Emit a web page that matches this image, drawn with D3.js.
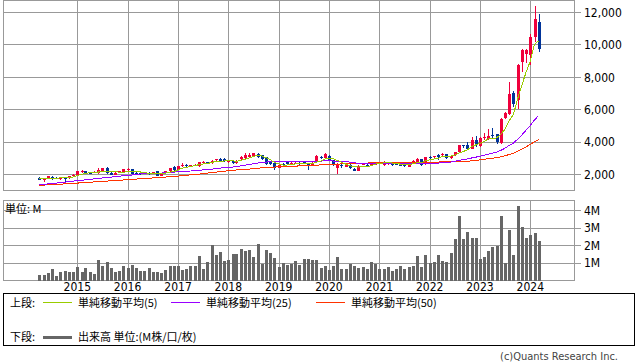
<!DOCTYPE html>
<html>
<head>
<meta charset="utf-8">
<script src="https://cdn.jsdelivr.net/npm/d3@7"></script>
<style>
  body { margin: 0; background: #fff; }
  svg { display: block; }
  text { font-family: "DejaVu Sans Condensed", "DejaVu Sans", sans-serif; font-stretch: condensed; fill: #000; }
  .jp { font-family: "Noto Sans CJK JP", sans-serif; font-stretch: normal; }
</style>
</head>
<body>
<svg id="chart" width="638" height="362"></svg>
<script>
// monthly bars, Apr 2014 .. Mar 2024
const months = d3.timeMonth.range(new Date(2014, 3, 1), new Date(2024, 3, 1));

const open = [
  1810, 1670, 1740, 1860, 1800, 1720, 1810, 1770, 1880,
  1970, 2150, 2200, 2120, 2110, 2110, 2200, 2390, 2110, 1985, 2110, 2150,
  2260, 2310, 2110, 2120, 2090, 2100, 2047, 2191, 1924, 2090, 2191, 2459,
  2294, 2500, 2580, 2520, 2560, 2500, 2750, 2760, 2680, 2870, 2980, 2960,
  2800, 2860, 2740, 2950, 3000, 3080, 3130, 3280, 3180, 3060, 2780, 2740,
  2420, 2650, 2760, 2640, 2660, 2720, 2760, 2700, 2560, 2830, 3100, 3040,
  3150, 2870, 2400, 2560, 2480, 2600, 2370, 2240, 2620, 2600, 2560, 2600,
  2720, 2560, 2640, 2660, 2660, 2600, 2580, 2460, 2680, 2760, 2940, 2620,
  3080, 3060, 3180, 3180, 3250, 3020, 3180, 3400, 3795, 3795, 3590, 4104,
  3734, 4280, 4210, 4420, 4474, 3937, 5503, 5750, 7022, 6572, 8935, 9410,
  9349, 10478, 11405
];
const high = [
  1840, 1740, 1900, 1890, 1840, 1830, 1830, 1900, 2050,
  2230, 2260, 2220, 2160, 2190, 2380, 2400, 2480, 2130, 2130, 2210, 2330,
  2380, 2320, 2140, 2150, 2140, 2130, 2170, 2200, 2060, 2240, 2390, 2500,
  2520, 2700, 2620, 2600, 2640, 2770, 2860, 2800, 2880, 2960, 3000, 2990,
  2900, 2880, 2880, 3130, 3300, 3300, 3330, 3320, 3200, 3080, 2800, 2760,
  2640, 2720, 2800, 2760, 2760, 2780, 2800, 2720, 2760, 3180, 3160, 3300,
  3200, 2900, 2700, 2660, 2660, 2620, 2400, 2560, 2700, 2640, 2720, 2780,
  2790, 2820, 2770, 2680, 2680, 2620, 2640, 2780, 2880, 3000, 2960, 3100,
  3130, 3160, 3260, 3300, 3280, 3200, 3400, 3820, 3850, 4000, 4310, 4350,
  4300, 4557, 4825, 4865, 4500, 5500, 5850, 7700, 7146, 8800, 9750, 9720,
  10690, 12372, 11878
];
const low = [
  1640, 1560, 1720, 1690, 1720, 1690, 1540, 1750, 1860,
  1940, 2120, 2020, 2070, 2090, 2050, 2170, 2050, 1940, 1970, 2080, 2130,
  2240, 2000, 2040, 2000, 2060, 1980, 2030, 1900, 1910, 2070, 2170, 2230,
  2280, 2450, 2490, 2460, 2520, 2480, 2700, 2620, 2660, 2820, 2820, 2800,
  2720, 2650, 2640, 2900, 2970, 3050, 3100, 3030, 2900, 2600, 2560, 2280,
  2380, 2560, 2600, 2600, 2620, 2600, 2620, 2300, 2540, 2800, 2980, 3020,
  2850, 2520, 2050, 2420, 2440, 2330, 2220, 2220, 2600, 2520, 2540, 2580,
  2690, 2540, 2600, 2530, 2560, 2520, 2440, 2440, 2660, 2740, 2540, 2600,
  2980, 3020, 2900, 3150, 2950, 2980, 3150, 3380, 3650, 3490, 3550, 3690,
  3700, 4147, 4150, 4207, 3900, 3900, 5400, 5700, 6160, 6060, 8320, 8900,
  8730, 10170, 9552
];
const close = [
  1670, 1720, 1880, 1800, 1760, 1810, 1770, 1880, 2000,
  2190, 2200, 2050, 2100, 2150, 2250, 2376, 2110, 1965, 2110, 2190, 2310,
  2330, 2047, 2060, 2040, 2120, 2080, 2150, 1924, 2047, 2230, 2376, 2253,
  2500, 2580, 2520, 2560, 2600, 2750, 2800, 2680, 2860, 2940, 2850, 2840,
  2860, 2740, 2800, 3110, 3180, 3230, 3300, 3080, 2950, 2620, 2650, 2420,
  2600, 2620, 2640, 2700, 2720, 2640, 2660, 2560, 2740, 3150, 3040, 3240,
  2870, 2560, 2640, 2520, 2620, 2380, 2240, 2540, 2660, 2560, 2700, 2750,
  2760, 2800, 2700, 2560, 2600, 2540, 2560, 2760, 2860, 2940, 2560, 3080,
  3060, 3120, 3100, 3280, 3000, 3150, 3383, 3795, 3740, 3549, 4147, 3898,
  4270, 4310, 4350, 4350, 4000, 5443, 5790, 6985, 6368, 8775, 9700, 9700,
  10478, 11570, 9762
];
// volume in millions
const volume = [
  0.31, 0.31, 0.44, 0.65, 0.25, 0.46, 0.52, 0.48, 0.48,
  0.77, 0.50, 0.71, 0.50, 0.37, 1.17, 0.85, 1.06, 0.71, 0.50, 0.56, 0.83,
  0.73, 0.87, 0.71, 0.54, 0.54, 0.71, 0.46, 0.50, 0.44, 0.60, 0.83, 0.83,
  0.83, 0.62, 0.65, 0.83, 0.84, 1.41, 0.66, 1.03, 2.05, 1.47, 1.64, 1.13,
  1.18, 1.53, 1.53, 1.82, 1.70, 1.76, 1.36, 2.11, 0.95, 1.76, 1.59, 1.30,
  0.78, 1.01, 0.90, 0.95, 1.13, 0.90, 1.24, 1.24, 1.18, 1.18, 0.72, 0.84,
  0.60, 0.84, 1.36, 0.66, 0.66, 0.95, 0.84, 0.72, 0.78, 0.66, 1.07, 0.95,
  0.66, 0.66, 0.78, 0.55, 0.66, 0.84, 0.66, 0.78, 0.84, 1.41, 0.78, 1.47,
  1.01, 1.07, 1.47, 1.13, 1.07, 1.59, 2.39, 3.66, 2.39, 2.80, 2.45, 2.45,
  1.24, 1.36, 1.70, 1.93, 1.99, 3.66, 1.01, 2.91, 1.47, 4.24, 3.03, 2.45,
  2.62, 2.74, 2.28
];

// moving-average values at the start of the window (history before Apr 2014 is not shown)
const ma5Early = [1740, 1730, 1750, 1760];
const ma25Early = [
  1370, 1395, 1420, 1445, 1470, 1500, 1530, 1560, 1590, 1617, 1645, 1672,
  1700, 1727, 1755, 1782, 1810, 1837, 1865, 1892, 1920, 1945, 1968, 1990
];
const ma50Early = [
  1330, 1345, 1360, 1375, 1390, 1405, 1420, 1435, 1450, 1470, 1487, 1505,
  1522, 1540, 1557, 1575, 1592, 1610, 1627, 1645, 1662, 1680, 1698, 1716,
  1734, 1752, 1770, 1788, 1806, 1824, 1842, 1860, 1880, 1900, 1925, 1950,
  1975, 2000, 2025, 2055, 2085, 2115, 2145, 2175, 2205, 2230, 2255, 2280, 2300
];

const priceTicks = [2000, 4000, 6000, 8000, 10000, 12000];
const volTicks = [1, 2, 3, 4];
const yearTicks = [2015, 2016, 2017, 2018, 2019, 2020, 2021, 2022, 2023, 2024];

const legendTop = [
  {label: "単純移動平均(5)",  color: "#99cc00"},
  {label: "単純移動平均(25)", color: "#9900ff"},
  {label: "単純移動平均(50)", color: "#ff3300"}
];

// layout
const left = 3.5, right = 574.5;
const pTop = 0.5, pBottom = 190.5;
const vTop = 200.5, vBottom = 280.5;
const upColor = "#f0003c", downColor = "#003399", gridColor = "#999";

const svg = d3.select("#chart");

const x = d3.scaleTime()
  .domain([new Date(2015, 0, 1), new Date(2024, 0, 1)])
  .range([77.3, 530.3]);
const y = d3.scaleLinear().domain([2000, 12000]).range([174.5, 12.5]);
const yv = d3.scaleLinear().domain([0, 4]).range([vBottom, 210.5]);

const px = d => Math.round(x(d)) + 0.5;

function movingAvg(n, early) {
  return close.map((c, i) => i < early.length ? early[i] : d3.mean(close.slice(i - n + 1, i + 1)));
}

const crisp = g => g.attr("shape-rendering", "crispEdges");

// grids + frames
function panel(top, bottom, ticks, scale, fmt) {
  const g = svg.append("g").call(crisp);
  g.selectAll(".h").data(ticks).join("line")
    .attr("x1", left).attr("x2", right + 6)
    .attr("y1", d => Math.round(scale(d) - 0.5) + 0.5)
    .attr("y2", d => Math.round(scale(d) - 0.5) + 0.5)
    .attr("stroke", gridColor);
  g.selectAll(".v").data(yearTicks).join("line")
    .attr("x1", d => px(new Date(d, 0, 1))).attr("x2", d => px(new Date(d, 0, 1)))
    .attr("y1", top).attr("y2", bottom)
    .attr("stroke", gridColor);
  g.append("rect")
    .attr("x", left).attr("y", top)
    .attr("width", right - left).attr("height", bottom - top)
    .attr("fill", "none").attr("stroke", gridColor);
  svg.append("g").selectAll("text").data(ticks).join("text")
    .attr("x", 584).attr("y", d => scale(d))
    .attr("dy", "0.36em")
    .attr("font-size", 12)
    .text(fmt);
}
panel(pTop, pBottom, priceTicks, y, d3.format(","));
panel(vTop, vBottom, volTicks, yv, d => d + "M");

// volume bars
svg.append("g").call(crisp).selectAll("rect").data(volume).join("rect")
  .attr("x", (d, i) => Math.round(x(months[i])) - 1)
  .attr("width", 3)
  .attr("y", d => yv(d))
  .attr("height", d => yv(0) - yv(d))
  .attr("fill", "#666");

// candles
const candles = svg.append("g").call(crisp);
months.forEach((m, i) => {
  const c = close[i] >= open[i] ? upColor : downColor;
  candles.append("line")
    .attr("x1", px(m)).attr("x2", px(m))
    .attr("y1", y(high[i])).attr("y2", y(low[i]))
    .attr("stroke", c);
  const yt = y(Math.max(open[i], close[i]));
  const yb = y(Math.min(open[i], close[i]));
  candles.append("rect")
    .attr("x", Math.round(x(m)) - 1).attr("width", 3)
    .attr("y", yt).attr("height", Math.max(1, yb - yt))
    .attr("fill", c);
});

// moving averages
const line = d3.line().x((d, i) => x(months[i])).y(d => y(d));
[[movingAvg(50, ma50Early), "#ff3300"],
 [movingAvg(25, ma25Early), "#9900ff"],
 [movingAvg(5, ma5Early), "#99cc00"]].forEach(([vals, col]) => {
  svg.append("path").datum(vals)
    .attr("d", line)
    .attr("fill", "none")
    .attr("stroke", col)
    .attr("stroke-width", 1)
    .call(crisp);
});

// year labels
svg.append("g").selectAll("text").data(yearTicks).join("text")
  .attr("x", d => x(new Date(d, 0, 1)))
  .attr("y", 290.5)
  .attr("text-anchor", "middle")
  .attr("font-size", 12)
  .text(d => d);

svg.append("text").attr("class", "jp")
  .attr("x", 5).attr("y", 213).attr("font-size", 11)
  .text("単位: M");

// legend
const lg = svg.append("g");
lg.append("rect").call(crisp)
  .attr("x", 3.5).attr("y", 293.5).attr("width", 631).attr("height", 52)
  .attr("fill", "none").attr("stroke", "#000");
lg.append("text").attr("class", "jp").attr("x", 10).attr("y", 306.5).attr("font-size", 11).text("上段:");
lg.append("text").attr("class", "jp").attr("x", 10).attr("y", 341).attr("font-size", 11).text("下段:");
const itemX = [43, 171, 316];
legendTop.forEach((d, i) => {
  lg.append("line").call(crisp)
    .attr("x1", itemX[i]).attr("x2", itemX[i] + 29)
    .attr("y1", 302.5).attr("y2", 302.5)
    .attr("stroke", d.color);
  lg.append("text").attr("class", "jp")
    .attr("x", itemX[i] + 35).attr("y", 306.5).attr("font-size", 11)
    .text(d.label);
});
lg.append("line").call(crisp)
  .attr("x1", 43).attr("x2", 72).attr("y1", 337.5).attr("y2", 337.5)
  .attr("stroke", "#666").attr("stroke-width", 3);
lg.append("text").attr("class", "jp")
  .attr("x", 78).attr("y", 341).attr("font-size", 11)
  .text("出来高 単位:(M株/口/枚)");

svg.append("text")
  .attr("x", 618).attr("y", 360)
  .attr("text-anchor", "end")
  .attr("font-size", 11)
  .style("fill", "#444")
  .text("(c)Quants Research Inc.");
</script>
</body>
</html>
